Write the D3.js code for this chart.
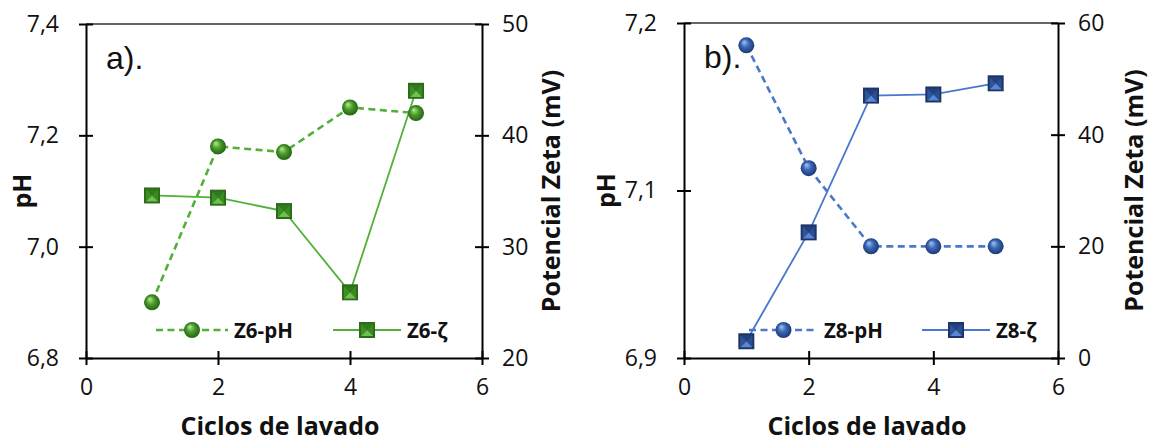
<!DOCTYPE html>
<html>
<head>
<meta charset="utf-8">
<script src="https://cdn.jsdelivr.net/npm/d3@7"></script>
<style>
  html, body { margin: 0; padding: 0; background: #fff; }
  svg { display: block; }
  .tick-label { font-family: "Open Sans", "DejaVu Sans", sans-serif; font-size: 23px; fill: #111; }
  .axis-title { font-family: "Open Sans", "DejaVu Sans", sans-serif; font-size: 25px; font-weight: bold; fill: #111; }
  .legend-label { font-family: "Open Sans", "DejaVu Sans", sans-serif; font-size: 20.5px; font-weight: bold; fill: #111; }
  .panel-tag { font-family: "Liberation Sans", Arial, sans-serif; font-size: 32px; fill: #111; }
</style>
</head>
<body>
<svg id="chart" width="1152" height="445"></svg>
<script>
// Washing cycles (shared x values)
const cycles = [1, 2, 3, 4, 5];

// Panel a) — sample Z6
const z6pH   = [6.90, 7.18, 7.17, 7.25, 7.24];
const z6Zeta = [34.6, 34.4, 33.2, 25.9, 44.0];

// Panel b) — sample Z8
const z8pH   = [7.18, 7.07, 7.00, 7.00, 7.00];
const z8Zeta = [3.0, 22.5, 47.0, 47.2, 49.2];

// Axis ticks and labels
const xTicks = [0, 2, 4, 6];
const aPhTicks = [6.8, 7.0, 7.2, 7.4];
const aPhLabels = ["6,8", "7,0", "7,2", "7,4"];
const aZetaTicks = [20, 30, 40, 50];
const bPhTicks = [6.9, 7.05, 7.2];
const bPhLabels = ["6,9", "7,1", "7,2"];
const bZetaTicks = [0, 20, 40, 60];

const svg = d3.select("#chart");
const defs = svg.append("defs");

// Shaded sphere fills for the circular markers
function sphereGradient(id, light, mid, dark) {
  const g = defs.append("radialGradient").attr("id", id)
    .attr("cx", "50%").attr("cy", "50%").attr("r", "55%")
    .attr("fx", "35%").attr("fy", "28%");
  g.append("stop").attr("offset", "0%").attr("stop-color", light);
  g.append("stop").attr("offset", "45%").attr("stop-color", mid);
  g.append("stop").attr("offset", "100%").attr("stop-color", dark);
}
sphereGradient("sphereGreen", "#b8ec9c", "#4c9e2c", "#1f5a10");
sphereGradient("sphereBlue", "#a9c4f0", "#3b68b8", "#1a3268");

// Bevelled square marker drawn as four triangles
function bevelSquare(g, cx, cy, s, shades) {
  const h = s / 2, i = s * 0.12;
  const p = (pts) => pts.map(d => d.join(",")).join(" ");
  const c = [cx, cy];
  g.append("rect").attr("x", cx - h).attr("y", cy - h).attr("width", s).attr("height", s)
    .attr("fill", shades.edge);
  const itl = [cx - h + i, cy - h + i], itr = [cx + h - i, cy - h + i], ibr = [cx + h - i, cy + h - i], ibl = [cx - h + i, cy + h - i];
  g.append("polygon").attr("points", p([itl, itr, c])).attr("fill", shades.top);
  g.append("polygon").attr("points", p([itr, ibr, c])).attr("fill", shades.right);
  g.append("polygon").attr("points", p([ibr, ibl, c])).attr("fill", shades.bottom);
  g.append("polygon").attr("points", p([ibl, itl, c])).attr("fill", shades.left);
}

function drawPanel(cfg) {
  const { left, right, top, bottom } = cfg.box;
  const x = d3.scaleLinear().domain([0, 6]).range([left, right]);
  const yL = d3.scaleLinear().domain(cfg.phDomain).range([bottom, top]);
  const yR = d3.scaleLinear().domain(cfg.zetaDomain).range([bottom, top]);
  const g = svg.append("g");

  // Top border of the plot area
  g.append("line").attr("x1", left).attr("x2", right).attr("y1", top).attr("y2", top)
    .attr("stroke", "#333").attr("stroke-width", 1.4);

  // Axes (crossing ticks)
  const tickLen = 7;
  const axisStyle = (sel) => {
    sel.select(".domain").attr("stroke", "#000").attr("stroke-width", 2);
    sel.selectAll(".tick line").attr("stroke", "#000").attr("stroke-width", 2);
    sel.selectAll(".tick text").attr("class", "tick-label");
  };

  const xAxis = g.append("g").attr("transform", `translate(0,${bottom})`)
    .call(d3.axisBottom(x).tickValues(xTicks).tickFormat(d3.format("d"))
      .tickSizeInner(tickLen).tickSizeOuter(0).tickPadding(14));
  axisStyle(xAxis);
  xAxis.selectAll(".tick line").attr("y1", -tickLen);

  const leftAxis = g.append("g").attr("transform", `translate(${left},0)`)
    .call(d3.axisLeft(yL).tickValues(cfg.phTicks).tickFormat((d, i) => cfg.phLabels[i])
      .tickSizeInner(tickLen).tickSizeOuter(0).tickPadding(20));
  axisStyle(leftAxis);
  leftAxis.selectAll(".tick line").attr("x1", tickLen);

  const rightAxis = g.append("g").attr("transform", `translate(${right},0)`)
    .call(d3.axisRight(yR).tickValues(cfg.zetaTicks).tickFormat(d3.format("d"))
      .tickSizeInner(tickLen).tickSizeOuter(0).tickPadding(13));
  axisStyle(rightAxis);
  rightAxis.selectAll(".tick line").attr("x1", -tickLen);

  // Axis titles
  g.append("text").attr("class", "axis-title").attr("text-anchor", "middle")
    .attr("x", (left + right) / 2 - 4).attr("y", bottom + 77).text("Ciclos de lavado");
  g.append("text").attr("class", "axis-title").attr("text-anchor", "middle")
    .attr("transform", `translate(${cfg.phTitleX},${(top + bottom) / 2}) rotate(-90)`).text("pH");
  g.append("text").attr("class", "axis-title").attr("text-anchor", "middle")
    .attr("transform", `translate(${cfg.zetaTitleX},${(top + bottom) / 2}) rotate(-90)`).text("Potencial Zeta (mV)");

  // Panel tag
  g.append("text").attr("class", "panel-tag").attr("x", cfg.tagX).attr("y", top + 45).text(cfg.tag);

  // Series lines
  const phLine = d3.line().x((d, i) => x(cycles[i])).y(d => yL(d));
  const zetaLine = d3.line().x((d, i) => x(cycles[i])).y(d => yR(d));

  g.append("path").datum(cfg.zeta).attr("d", zetaLine)
    .attr("fill", "none").attr("stroke", cfg.lineColor).attr("stroke-width", 1.8);
  g.append("path").datum(cfg.ph).attr("d", phLine)
    .attr("fill", "none").attr("stroke", cfg.lineColor).attr("stroke-width", 2.6)
    .attr("stroke-dasharray", "7,4.5");

  // Markers
  cfg.zeta.forEach((v, i) => bevelSquare(g, x(cycles[i]), yR(v), 16, cfg.shades));
  g.selectAll(null).data(cfg.ph).enter().append("circle")
    .attr("cx", (d, i) => x(cycles[i])).attr("cy", d => yL(d)).attr("r", 8)
    .attr("fill", `url(#${cfg.sphere})`);

  // Legend
  const ly = 330;
  const L = cfg.legend;
  g.append("line").attr("x1", L.a0).attr("x2", L.a1).attr("y1", ly).attr("y2", ly)
    .attr("stroke", cfg.lineColor).attr("stroke-width", 2.6).attr("stroke-dasharray", "7,4.5");
  g.append("circle").attr("cx", (L.a0 + L.a1) / 2).attr("cy", ly).attr("r", 8)
    .attr("fill", `url(#${cfg.sphere})`);
  g.append("text").attr("class", "legend-label").attr("x", L.a1 + 6).attr("y", ly + 7.5).text(cfg.names[0]);
  g.append("line").attr("x1", L.b0).attr("x2", L.b1).attr("y1", ly).attr("y2", ly)
    .attr("stroke", cfg.lineColor).attr("stroke-width", 1.8);
  bevelSquare(g, (L.b0 + L.b1) / 2, ly, 16, cfg.shades);
  g.append("text").attr("class", "legend-label").attr("x", L.b1 + 6).attr("y", ly + 7.5).text(cfg.names[1]);
}

drawPanel({
  box: { left: 86, right: 482, top: 24, bottom: 358 },
  phDomain: [6.8, 7.4], zetaDomain: [20, 50],
  phTicks: aPhTicks, phLabels: aPhLabels, zetaTicks: aZetaTicks,
  ph: z6pH, zeta: z6Zeta,
  lineColor: "#52b038", sphere: "sphereGreen",
  shades: { edge: "#2d6a1a", top: "#2f7a1c", left: "#3f8f28", right: "#3a8a24", bottom: "#6cc24c" },
  names: ["Z6-pH", "Z6-ζ"],
  legend: { a0: 156, a1: 228, b0: 333, b1: 401 },
  tag: "a).", tagX: 106,
  phTitleX: 31, zetaTitleX: 560
});

drawPanel({
  box: { left: 684, right: 1058, top: 23, bottom: 358 },
  phDomain: [6.9, 7.2], zetaDomain: [0, 60],
  phTicks: bPhTicks, phLabels: bPhLabels, zetaTicks: bZetaTicks,
  ph: z8pH, zeta: z8Zeta,
  lineColor: "#4a78cc", sphere: "sphereBlue",
  shades: { edge: "#1c3468", top: "#22407e", left: "#2f5599", right: "#2a4e90", bottom: "#5a86d6" },
  names: ["Z8-pH", "Z8-ζ"],
  legend: { a0: 749, a1: 818, b0: 922, b1: 990 },
  tag: "b).", tagX: 704,
  phTitleX: 615, zetaTitleX: 1143
});
</script>
</body>
</html>
